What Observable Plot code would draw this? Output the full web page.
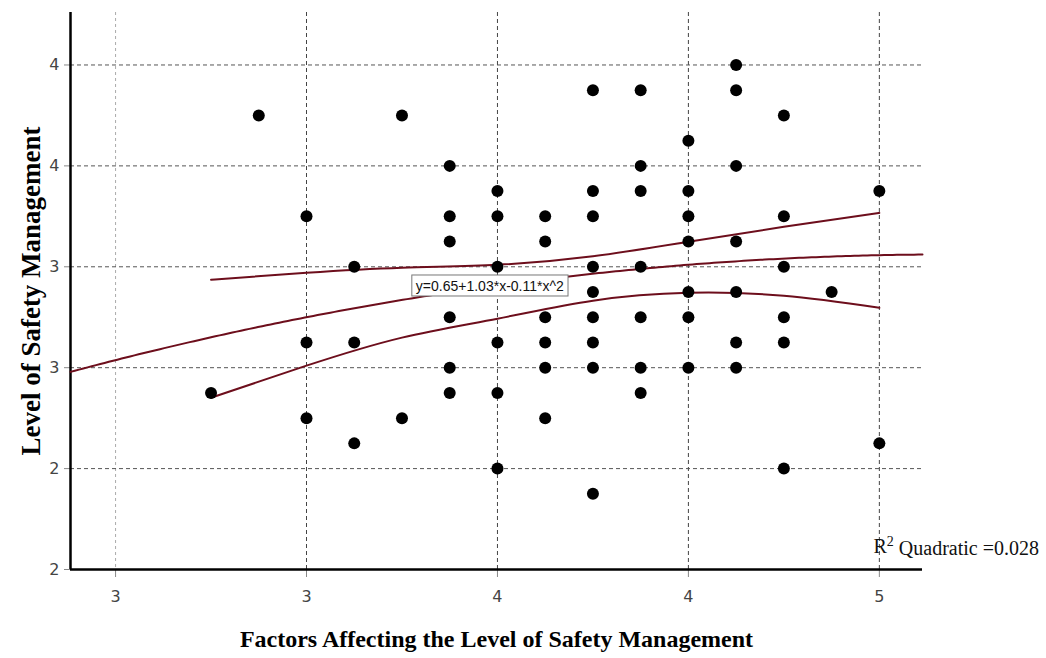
<!DOCTYPE html>
<html>
<head>
<meta charset="utf-8">
<script src="https://cdn.jsdelivr.net/npm/d3@7"></script>
<script src="https://cdn.jsdelivr.net/npm/@observablehq/plot@0.6"></script>
<style>
  html, body { margin: 0; padding: 0; background: #fff; }
  #chart { width: 1046px; height: 658px; }
</style>
</head>
<body>
<div id="chart"></div>
<script>
// Factor score (x) and safety-management score (y) for each respondent
const factors = [
  2.75,
  2.875,
  3.0, 3.0, 3.0,
  3.125, 3.125, 3.125,
  3.25, 3.25,
  3.375, 3.375, 3.375, 3.375, 3.375, 3.375,
  3.5, 3.5, 3.5, 3.5, 3.5, 3.5,
  3.625, 3.625, 3.625, 3.625, 3.625, 3.625,
  3.75, 3.75, 3.75, 3.75, 3.75, 3.75, 3.75, 3.75, 3.75,
  3.875, 3.875, 3.875, 3.875, 3.875, 3.875, 3.875,
  4.0, 4.0, 4.0, 4.0, 4.0, 4.0, 4.0,
  4.125, 4.125, 4.125, 4.125, 4.125, 4.125, 4.125,
  4.25, 4.25, 4.25, 4.25, 4.25, 4.25,
  4.375,
  4.5, 4.5
];
const safety = [
  2.375,
  3.75,
  3.25, 2.625, 2.25,
  3.0, 2.625, 2.125,
  3.75, 2.25,
  3.5, 3.25, 3.125, 2.75, 2.5, 2.375,
  3.375, 3.25, 3.0, 2.625, 2.375, 2.0,
  3.25, 3.125, 2.75, 2.625, 2.5, 2.25,
  3.875, 3.375, 3.25, 3.0, 2.875, 2.75, 2.625, 2.5, 1.875,
  3.875, 3.5, 3.375, 3.0, 2.75, 2.5, 2.375,
  3.625, 3.375, 3.25, 3.125, 2.875, 2.75, 2.5,
  4.0, 3.875, 3.5, 3.125, 2.875, 2.625, 2.5,
  3.75, 3.25, 3.0, 2.75, 2.625, 2.0,
  2.875,
  3.375, 2.125
];

// Quadratic fit y = b0 + b1*x + b2*x^2 and its fit statistic
const fitCoefficients = [0.65, 1.03, -0.11];
const rSquared = 0.028;

// 95% confidence band of the mean prediction over the observed range
const bandX     = [2.75, 3.0, 3.25, 3.5, 3.75, 4.0, 4.25, 4.5];
const bandUpper = [2.936, 2.970, 2.995, 3.010, 3.052, 3.124, 3.198, 3.267];
const bandLower = [2.351, 2.510, 2.649, 2.743, 2.832, 2.871, 2.856, 2.797];

// Axis ticks and their printed labels
const xTicks = [2.5, 3.0, 3.5, 4.0, 4.5];
const xTickLabels = ["3", "3", "4", "4", "5"];
const yTicks = [1.5, 2.0, 2.5, 3.0, 3.5, 4.0];
const yTickLabels = ["2", "2", "3", "3", "4", "4"];

const xTitle = "Factors Affecting the Level of Safety Management";
const yTitle = "Level of Safety Management";

const xDomain = [2.382, 4.613];
const yDomain = [1.5, 4.26];
const eqLabelAt = 3.48;

const points = factors.map((x, i) => ({x, y: safety[i]}));
const band = bandX.map((x, i) => ({x, lo: bandLower[i], hi: bandUpper[i]}));
const fit = x => fitCoefficients[0] + fitCoefficients[1] * x + fitCoefficients[2] * x * x;
const fitCurve = d3.range(0, 201).map(i => {
  const x = xDomain[0] + (xDomain[1] - xDomain[0]) * i / 200;
  return {x, y: fit(x)};
});
const xLabel = new Map(xTicks.map((t, i) => [t, xTickLabels[i]]));
const yLabel = new Map(yTicks.map((t, i) => [t, yTickLabels[i]]));
const eqText = `y=${fitCoefficients[0].toFixed(2)}+${fitCoefficients[1].toFixed(2)}*x-${Math.abs(fitCoefficients[2]).toFixed(2)}*x^2`;
const r2Rest = ` Quadratic =${rSquared.toFixed(3)}`;

const lineColor = "#6d0e1c";
const serif = "'Liberation Serif', 'Times New Roman', serif";

const chart = Plot.plot({
  width: 1046,
  height: 658,
  marginLeft: 70,
  marginRight: 124,
  marginTop: 12,
  marginBottom: 89,
  style: {fontFamily: "'DejaVu Sans', sans-serif", fontSize: "15px", background: "#fff", color: "#444"},
  x: {domain: xDomain},
  y: {domain: yDomain},
  marks: [
    Plot.gridX([xTicks[0]], {stroke: "#aaa", strokeOpacity: 1, strokeDasharray: "3,3"}),
    Plot.gridX(xTicks.slice(1), {stroke: "#444", strokeOpacity: 1, strokeDasharray: "4,3"}),
    Plot.gridY(yTicks.slice(1), {stroke: "#555", strokeOpacity: 1, strokeDasharray: "4,3"}),
    Plot.axisX(xTicks, {
      tickFormat: d => xLabel.get(d), tickSize: 8, tickPadding: 13,
      stroke: "#888", fill: "#444", fontSize: 16, label: null
    }),
    Plot.axisY(yTicks, {
      tickFormat: d => yLabel.get(d), tickSize: 6, tickPadding: 5,
      stroke: "#888", fill: "#444", fontSize: 16, label: null
    }),
    Plot.ruleX([xDomain[0]], {stroke: "#000", strokeWidth: 2.5}),
    Plot.ruleY([yDomain[0]], {stroke: "#000", strokeWidth: 2.5}),
    Plot.line(band, {x: "x", y: "hi", curve: "natural", stroke: lineColor, strokeWidth: 2}),
    Plot.line(band, {x: "x", y: "lo", curve: "natural", stroke: lineColor, strokeWidth: 2}),
    Plot.line(fitCurve, {x: "x", y: "y", stroke: lineColor, strokeWidth: 2}),
    Plot.dot(points, {x: "x", y: "y", r: 6, fill: "#000", stroke: "none"}),
    Plot.text([{x: eqLabelAt, y: fit(eqLabelAt)}], {
      x: "x", y: "y", text: () => eqText, className: "eq-label",
      fontFamily: "'Liberation Sans', Arial, sans-serif", fontSize: 14, fill: "#111"
    }),
    Plot.text(["R2" + r2Rest], {
      frameAnchor: "bottom-right", textAnchor: "start", dx: -49, dy: -17,
      fontFamily: serif, fontSize: 20, fill: "#111", className: "r2-label"
    }),
    Plot.text([xTitle], {
      frameAnchor: "bottom", textAnchor: "middle", dy: 77, fontFamily: serif, fontSize: 24,
      fontWeight: "bold", fill: "#000"
    }),
    Plot.text([yTitle], {
      frameAnchor: "left", textAnchor: "middle", dx: -39, rotate: -90, fontFamily: serif, fontSize: 27,
      fontWeight: "bold", fill: "#000"
    })
  ]
});

document.getElementById("chart").appendChild(chart);

// boxed background behind the equation label
d3.select(chart).selectAll("g.eq-label text").each(function () {
  const b = this.getBBox();
  d3.select(this.parentNode).insert("rect", "text")
    .attr("x", b.x - 4).attr("y", b.y - 3)
    .attr("width", b.width + 8).attr("height", b.height + 5)
    .attr("fill", "#fff").attr("stroke", "#777").attr("stroke-width", 1)
    .attr("transform", this.getAttribute("transform"));
});

// superscript exponent in the R-squared note
d3.select(chart).selectAll("g.r2-label text").each(function () {
  const t = d3.select(this).text("");
  t.append("tspan").text("R");
  t.append("tspan").attr("dy", "-0.45em").attr("font-size", 14).text("2");
  t.append("tspan").attr("dy", "0.45em").text(r2Rest);
});
</script>
</body>
</html>
